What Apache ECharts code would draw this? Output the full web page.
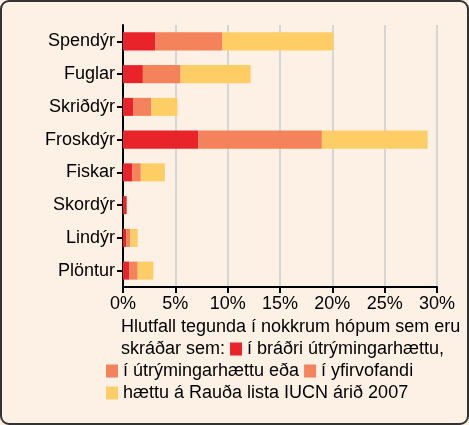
<!DOCTYPE html><html><head><meta charset="utf-8">
<script src="https://cdn.jsdelivr.net/npm/echarts@6/dist/echarts.min.js"></script>
<style>html,body{margin:0;padding:0;background:#fff}#c{width:469px;height:425px}</style></head><body><div id="c"></div>
<script>
const categories=['Spendýr','Fuglar','Skriðdýr','Froskdýr','Fiskar','Skordýr','Lindýr','Plöntur'];
const critical=[3.1,1.9,1.0,7.2,0.9,0.35,0.3,0.6];
const endangered=[6.4,3.6,1.7,11.8,0.8,0,0.4,0.8];
const vulnerable=[10.6,6.7,2.5,10.1,2.3,0,0.7,1.5];
const ticks=[0,5,10,15,20,25,30];
const C=['#e8232a','#f4825a','#ffcd66'];
const ch=echarts.init(document.getElementById('c'));
const sq=c=>({width:12,height:13,backgroundColor:c});
ch.setOption({
 backgroundColor:'#fdf0e5',
 animation:false,
 grid:{left:123,right:32,top:25,bottom:138},
 xAxis:{type:'value',min:0,max:30,interval:5,
  axisLabel:{formatter:v=>v+'%',fontSize:18,color:'#000',fontFamily:'Liberation Sans',margin:8},
  axisLine:{show:true,lineStyle:{color:'#000',width:2}},axisTick:{show:true,length:6,lineStyle:{color:'#000',width:2}},
  splitLine:{lineStyle:{color:'#ccc',width:1.5}}},
 yAxis:{type:'category',data:categories,inverse:true,
  axisLabel:{fontSize:18,color:'#000',fontFamily:'Liberation Sans',margin:8},
  axisLine:{lineStyle:{color:'#000',width:2}},axisTick:{show:true,alignWithLabel:true,length:6,lineStyle:{color:'#000',width:2}}},
 series:[critical,endangered,vulnerable].map((d,i)=>({type:'bar',stack:'s',data:d,barWidth:'55%',itemStyle:{color:C[i]}})),
 graphic:[{type:'text',left:106,top:316,style:{
  text:'   Hlutfall tegunda í nokkrum hópum sem eru\n   skráðar sem: {a|} í bráðri útrýmingarhættu,\n{b|} í útrýmingarhættu eða {b|} í yfirvofandi\n{c|} hættu á Rauða lista IUCN árið 2007',
  font:'18px Liberation Sans',fill:'#000',lineHeight:22,
  rich:{a:sq(C[0]),b:sq(C[1]),c:sq(C[2])}}},
  {type:'rect',shape:{x:1,y:1,width:467,height:423,r:8},style:{fill:'none',stroke:'#333',lineWidth:2},z:100}]
});
</script></body></html>
